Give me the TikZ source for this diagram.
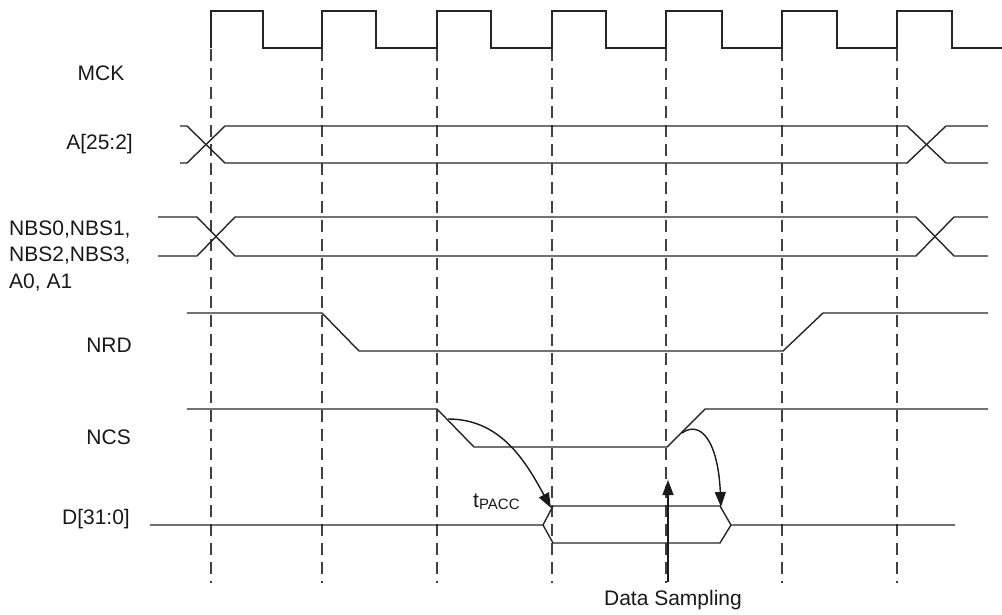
\documentclass[tikz,border=0pt]{standalone}
\usepackage{fontspec}
\setmainfont{Liberation Sans}
\usetikzlibrary{arrows.meta}
\begin{document}
\begin{tikzpicture}[x=1pt,y=-1pt,
  sig/.style={line width=1.4pt, draw=black!85, line join=miter},
  vline/.style={line width=1.2pt, draw=black!75, dash pattern=on 12pt off 7pt},
  lbl/.style={font=\fontsize{21}{26.5}\selectfont, inner sep=0pt, text=black!90},
  arr/.style={line width=1.4pt, draw=black!90, -{Triangle[length=15pt,width=11pt]}}]
\useasboundingbox (0,0) rectangle (1002,614);
% clock-edge reference lines
\foreach \x in {211,322,437,552,666,782,897} \draw[vline] (\x,11) -- (\x,583);
% MCK
\draw[sig] (211,48) -- (211,11) -- (263,11) -- (263,48) -- (322,48) -- (322,11) -- (376,11) -- (376,48)
  -- (437,48) -- (437,11) -- (491,11) -- (491,48) -- (552,48) -- (552,11) -- (606,11) -- (606,48)
  -- (666,48) -- (666,11) -- (722,11) -- (722,48) -- (782,48) -- (782,11) -- (837,11) -- (837,48)
  -- (897,48) -- (897,11) -- (952,11) -- (952,48) -- (1002,48);
% A[25:2]
\draw[sig] (180,126) -- (187,126) -- (225,163) -- (907,163) -- (946,126) -- (988,126);
\draw[sig] (180,163) -- (187,163) -- (225,126) -- (907,126) -- (946,163) -- (988,163);
% NBS
\draw[sig] (158,217) -- (197,217) -- (235,256) -- (916,256) -- (954,217) -- (988,217);
\draw[sig] (158,256) -- (197,256) -- (235,217) -- (916,217) -- (954,256) -- (988,256);
% NRD
\draw[sig] (187,313) -- (322,313) -- (359,351) -- (783,351) -- (823,313) -- (988,313);
% NCS
\draw[sig] (187,409) -- (437,409) -- (474,447) -- (667,447) -- (705,409) -- (988,409);
% D[31:0]
\draw[sig] (150,525) -- (543,525) -- (553,506) -- (720,506) -- (731,525) -- (955,525);
\draw[sig] (543,525) -- (553,543) -- (720,543) -- (731,525);
% labels
\node[lbl] (mck) at (101,73) {MCK};
\node[lbl, anchor=east] (addr) at (133,144.5) {A[25:2]};
\node[lbl, anchor=west, align=left] (nbs) at (9,256) {NBS0,NBS1,\\NBS2,NBS3,\\A0, A1};
\node[lbl, anchor=east] (nrd) at (132,345) {NRD};
\node[lbl, anchor=east] (ncs) at (131,437) {NCS};
\node[lbl, anchor=east] (d) at (130,519) {D[31:0]};
\node[lbl] (ds) at (673,600) {Data Sampling};
\node[lbl, anchor=west] (tp) at (473,502) {t\raisebox{-1.5pt}{\fontsize{15}{15}\selectfont PACC}};
% timing arrows
\coordinate (a1s) at (448,419);
\coordinate (a1e) at (551,508);
\coordinate (a2s) at (682,433);
\coordinate (a2e) at (721,507);
\coordinate (a3s) at (668,582);
\coordinate (a3e) at (668,480);
\draw[arr] (a1s) .. controls (500,419) and (525,460) .. (a1e);
\draw[arr] (a2s) .. controls (700,420) and (718,440) .. (a2e);
\draw[arr] (a3s) -- (a3e);
\end{tikzpicture}
\end{document}
